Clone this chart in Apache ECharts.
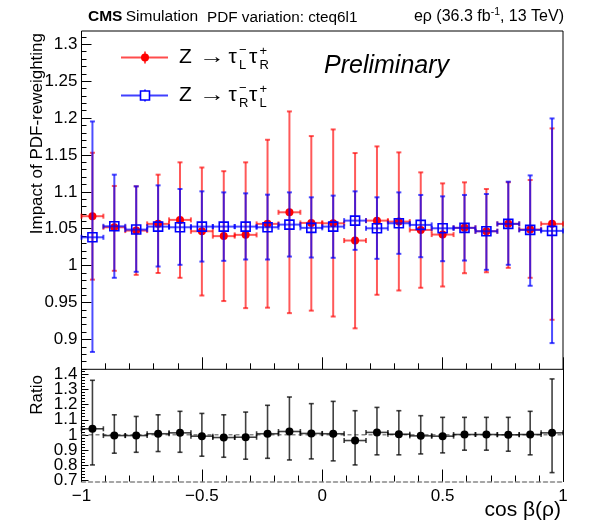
<!DOCTYPE html>
<html><head><meta charset="utf-8">
<script src="https://cdn.jsdelivr.net/npm/echarts@6/dist/echarts.min.js"></script>
<style>html,body{margin:0;padding:0;background:#fff}#c{width:598px;height:522px}</style>
</head><body><div id="c"></div>
<script>
// ---------- data ----------
const binWidth = 2 / 22;
const binCenters = [-0.95455,-0.86364,-0.77273,-0.68182,-0.59091,-0.5,-0.40909,-0.31818,-0.22727,-0.13636,-0.04545,
                    0.04545,0.13636,0.22727,0.31818,0.40909,0.5,0.59091,0.68182,0.77273,0.86364,0.95455];
// Z -> tau_L^- tau_R^+ (red)
const redVal = [1.067,1.052,1.0475,1.0566,1.062,1.0466,1.040,1.0417,1.0566,1.0723,1.0579,
                1.0574,1.034,1.061,1.0597,1.0484,1.0421,1.0512,1.0466,1.0566,1.0489,1.0566];
const redLo  = [0.981,0.993,0.9875,0.990,0.9835,0.9595,0.952,0.9424,0.943,0.9356,0.939,
                0.931,0.915,0.9605,0.9663,0.970,0.9717,0.9897,0.991,0.997,0.9835,0.9266];
const redHi  = [1.153,1.108,1.1075,1.1233,1.140,1.133,1.128,1.140,1.1706,1.209,1.1756,
                1.1846,1.1526,1.1616,1.1535,1.1264,1.1115,1.1129,1.1039,1.113,1.1161,1.186];
// Z -> tau_R^- tau_L^+ (blue)
const blueVal = [1.0384,1.0533,1.0489,1.0529,1.052,1.0529,1.0529,1.0529,1.052,1.0556,1.0512,
                 1.0529,1.061,1.0506,1.0574,1.0552,1.0506,1.0512,1.0466,1.0566,1.0484,1.0471];
const blueLo  = [0.883,0.9835,0.9916,0.9988,1.0011,1.0055,1.0065,1.0083,1.0083,1.0123,1.011,
                 1.0106,1.0214,1.0092,1.016,1.0114,1.006,1.0069,0.9943,1.0011,0.9727,0.895];
const blueHi  = [1.1954,1.1233,1.1075,1.1088,1.1039,1.1007,1.0993,1.098,1.0962,1.0993,1.0926,
                 1.0949,1.1007,1.0926,1.0993,1.0958,1.0939,1.0958,1.0971,1.1138,1.1223,1.1995];
// ratio
const ratioVal = [1.04,0.995,0.995,1.007,1.013,0.991,0.982,0.984,1.007,1.022,1.009,
                  1.007,0.962,1.016,1.004,0.993,0.991,1.002,1.002,1.0,1.002,1.013];
const ratioLo  = [0.80,0.878,0.884,0.889,0.884,0.858,0.851,0.838,0.844,0.833,0.84,
                  0.827,0.80,0.867,0.867,0.873,0.88,0.898,0.898,0.891,0.867,0.749];
const ratioHi  = [1.362,1.133,1.122,1.133,1.156,1.142,1.133,1.151,1.196,1.251,1.207,
                  1.222,1.16,1.182,1.16,1.127,1.116,1.116,1.116,1.116,1.156,1.371];
const refLine = [[-1, 1], [1, 1]];

// ticks
const xTickValues = [-1, -0.5, 0, 0.5, 1];
const xTickLabels = ['\u22121', '\u22120.5', '0', '0.5', '1'];
const topTickValues = [0.9, 0.95, 1, 1.05, 1.1, 1.15, 1.2, 1.25, 1.3];
const topTickLabels = ['0.9', '0.95', '1', '1.05', '1.1', '1.15', '1.2', '1.25', '1.3'];
const lowTickValues = [0.7, 0.8, 0.9, 1, 1.1, 1.2, 1.3, 1.4];
const lowTickLabels = ['0.7', '0.8', '0.9', '1', '1.1', '1.2', '1.3', '1.4'];
const topMinor = []; for (let k = 86; k <= 131; k++) topMinor.push(k / 100);
const lowMinor = []; for (let k = 35; k <= 71; k++) lowMinor.push(k / 50);
// lower labels split over two axes so none is hidden
const lowLabelsA = lowTickValues.filter((v, i) => i % 2 === 0);
const lowLabelsB = lowTickValues.filter((v, i) => i % 2 === 1);

const FONT = 'Liberation Sans, Arial, Helvetica, sans-serif';

function rows(val, lo, hi) {
  return binCenters.map((x, i) => [x, val[i], lo[i], hi[i]]);
}
function labelOf(values, labels) {
  return function (v) {
    for (let i = 0; i < values.length; i++) if (Math.abs(values[i] - v) < 1e-6) return labels[i];
    return '';
  };
}

function errRender(barColor, barWidth, marker) {
  return function (params, api) {
    const x = api.value(0), y = api.value(1), lo = api.value(2), hi = api.value(3);
    const c = api.coord([x, y]);
    const pl = api.coord([x - binWidth / 2, y]);
    const pr = api.coord([x + binWidth / 2, y]);
    const plo = api.coord([x, lo]);
    const phi = api.coord([x, hi]);
    const cap = 2.5;
    const st = { stroke: barColor, lineWidth: barWidth };
    const L = (x1, y1, x2, y2) => ({ type: 'line', shape: { x1, y1, x2, y2 }, style: st });
    const ch = [
      L(pl[0], c[1], pr[0], c[1]),
      L(pl[0], c[1] - cap, pl[0], c[1] + cap),
      L(pr[0], c[1] - cap, pr[0], c[1] + cap),
      L(c[0], plo[1], c[0], phi[1]),
      L(c[0] - cap, plo[1], c[0] + cap, plo[1]),
      L(c[0] - cap, phi[1], c[0] + cap, phi[1])
    ];
    if (marker === 'circleRed') ch.push({ type: 'circle', shape: { cx: c[0], cy: c[1], r: 4 }, style: { fill: '#ff0000' } });
    if (marker === 'circleBlack') ch.push({ type: 'circle', shape: { cx: c[0], cy: c[1], r: 4 }, style: { fill: '#000' } });
    if (marker === 'squareBlue') ch.push({ type: 'rect', shape: { x: c[0] - 4.5, y: c[1] - 4.5, width: 9, height: 9 }, style: { fill: 'none', stroke: '#0000ff', lineWidth: 1.6 } });
    return { type: 'group', children: ch };
  };
}

const chart = echarts.init(document.getElementById('c'), null, { renderer: 'canvas' });

function txt(x, y, text, size, opts, extra) {
  opts = opts || {};
  return Object.assign({
    type: 'text', x: x, y: y, z: 100,
    style: Object.assign({ text: text, fontSize: size, fontFamily: FONT, fill: '#000', align: 'left', verticalAlign: 'middle' }, opts)
  }, extra || {});
}

function legendRow(y, color, marker, s1sup, s1sub, s2sup, s2sub) {
  const items = [
    { type: 'line', shape: { x1: 121, y1: y, x2: 168, y2: y }, style: { stroke: color, lineWidth: 2 }, z: 100 },
    { type: 'line', shape: { x1: 145, y1: y - 6, x2: 145, y2: y + 6 }, style: { stroke: color, lineWidth: 2 }, z: 100 }
  ];
  if (marker === 'circle') items.push({ type: 'circle', shape: { cx: 145, cy: y, r: 4 }, style: { fill: '#ff0000' }, z: 101 });
  else items.push({ type: 'rect', shape: { x: 140.5, y: y - 4.5, width: 9, height: 9 }, style: { fill: '#fff', stroke: '#0000ff', lineWidth: 1.6 }, z: 101 });
  items.push(txt(179, y, 'Z', 21));
  items.push(txt(199, y, '\u2192', 20, {}, { scaleX: 1.3 }));
  items.push(txt(228.5, y, '\u03c4', 21));
  items.push(txt(239, y - 7, s1sup, 13));
  items.push(txt(239, y + 7.5, s1sub, 13));
  items.push(txt(249, y, '\u03c4', 21));
  items.push(txt(259.5, y - 6.5, s2sup, 13));
  items.push(txt(259.5, y + 7.5, s2sub, 13));
  return items;
}

const graphics = [].concat(
  [
    { type: 'text', x: 88, y: 17, z: 100, style: { text: '{b|CMS} {n|Simulation}', fontFamily: FONT, fill: '#000', align: 'left', verticalAlign: 'middle',
      rich: { b: { fontSize: 15.5, fontWeight: 'bold', fontFamily: FONT }, n: { fontSize: 15.5, fontFamily: FONT } } } },
    txt(207, 18, 'PDF variation: cteq6l1', 15.3),
    { type: 'text', x: 564, y: 17, z: 100, style: { text: '{n|e\u03c1 (36.3 fb}{s|-1}{n|, 13 TeV)}', fontFamily: FONT, fill: '#000', align: 'right', verticalAlign: 'middle',
      rich: { n: { fontSize: 16, fontFamily: FONT, lineHeight: 20 }, s: { fontSize: 10.5, fontFamily: FONT, verticalAlign: 'top', lineHeight: 12 } } } },
    txt(324, 66, 'Preliminary', 25, { fontStyle: 'italic' }),
    { type: 'text', x: 37, y: 33, rotation: Math.PI / 2, z: 100, style: { text: 'Impact of PDF-reweighting', fontSize: 17, fontFamily: FONT, fill: '#000', align: 'right', verticalAlign: 'middle' } },
    { type: 'text', x: 37, y: 375, rotation: Math.PI / 2, z: 100, style: { text: 'Ratio', fontSize: 17, fontFamily: FONT, fill: '#000', align: 'right', verticalAlign: 'middle' } },
    txt(561, 510, 'cos \u03b2(\u03c1)', 21, { align: 'right' })
  ],
  legendRow(57.5, 'rgba(255,0,0,0.7)', 'circle', '\u2212', 'L', '+', 'R'),
  legendRow(95.5, 'rgba(0,0,255,0.75)', 'square', '\u2212', 'R', '+', 'L')
);

const axisLabelStyle = { color: '#000', fontSize: 17, fontFamily: FONT };

const option = {
  animation: false,
  backgroundColor: '#fff',
  grid: [
    { left: 81.5, top: 31, width: 481.5, height: 338.3, show: true, borderColor: '#000', borderWidth: 1, backgroundColor: 'transparent' },
    { left: 81.5, top: 369.3, width: 481.5, height: 112.2, show: false }
  ],
  xAxis: [
    { gridIndex: 0, type: 'value', min: -1, max: 1, interval: 0.5, position: 'bottom',
      axisLine: { show: false, onZero: false }, axisLabel: { show: false }, splitLine: { show: false },
      axisTick: { inside: true, length: 12, lineStyle: { color: '#000', width: 1 } },
      minorTick: { show: true, splitNumber: 5, length: 6, lineStyle: { color: '#000', width: 1 } } },
    { gridIndex: 1, type: 'value', min: -1, max: 1, interval: 0.5, position: 'bottom',
      axisLine: { show: true, onZero: false, lineStyle: { color: '#888', width: 1.5, type: [4, 3] } },
      axisLabel: Object.assign({ show: true, margin: 6, showMinLabel: true, showMaxLabel: true, hideOverlap: false, formatter: labelOf(xTickValues, xTickLabels) }, axisLabelStyle),
      splitLine: { show: false },
      axisTick: { inside: true, length: 12, lineStyle: { color: '#000', width: 1 } },
      minorTick: { show: true, splitNumber: 5, length: 6, lineStyle: { color: '#000', width: 1 } } }
  ],
  yAxis: [
    { gridIndex: 0, type: 'value', min: 0.8595, max: 1.318, position: 'left',
      axisLine: { show: false, onZero: false }, splitLine: { show: false },
      axisTick: { inside: true, length: 10, customValues: topTickValues, lineStyle: { color: '#000' } },
      axisLabel: Object.assign({ margin: 4, showMinLabel: true, showMaxLabel: true, hideOverlap: false, customValues: topTickValues, formatter: labelOf(topTickValues, topTickLabels) }, axisLabelStyle) },
    { gridIndex: 0, type: 'value', min: 0.8595, max: 1.318, position: 'left',
      axisLine: { show: false, onZero: false }, splitLine: { show: false }, axisLabel: { show: false },
      axisTick: { inside: true, length: 5, customValues: topMinor, lineStyle: { color: '#000' } } },
    { gridIndex: 1, type: 'value', min: 0.69, max: 1.435, position: 'left',
      axisLine: { show: true, onZero: false, lineStyle: { color: '#000', width: 1 } }, splitLine: { show: false },
      axisTick: { inside: true, length: 7, customValues: lowTickValues, lineStyle: { color: '#000' } },
      axisLabel: Object.assign({ margin: 4, showMinLabel: true, showMaxLabel: true, hideOverlap: false, customValues: lowLabelsA, formatter: labelOf(lowTickValues, lowTickLabels) }, axisLabelStyle) },
    { gridIndex: 1, type: 'value', min: 0.69, max: 1.435, position: 'left',
      axisLine: { show: false, onZero: false }, splitLine: { show: false },
      axisLabel: Object.assign({ margin: 4, showMinLabel: true, showMaxLabel: true, hideOverlap: false, customValues: lowLabelsB, formatter: labelOf(lowTickValues, lowTickLabels) }, axisLabelStyle),
      axisTick: { inside: true, length: 3.5, customValues: lowMinor, lineStyle: { color: '#000' } } },
    { gridIndex: 1, type: 'value', min: 0.69, max: 1.435, position: 'right',
      axisLine: { show: true, onZero: false, lineStyle: { color: '#000', width: 1 } }, splitLine: { show: false },
      axisLabel: { show: false }, axisTick: { show: false } }
  ],
  series: [
    { type: 'line', xAxisIndex: 1, yAxisIndex: 2, data: refLine, symbol: 'none', silent: true,
      lineStyle: { color: '#888', width: 1.5, type: [4, 3] }, z: 1 },
    { type: 'custom', name: 'red', xAxisIndex: 0, yAxisIndex: 0, data: rows(redVal, redLo, redHi),
      renderItem: errRender('rgba(255,0,0,0.65)', 2, 'circleRed'), z: 3 },
    { type: 'custom', name: 'blue', xAxisIndex: 0, yAxisIndex: 0, data: rows(blueVal, blueLo, blueHi),
      renderItem: errRender('rgba(0,0,255,0.7)', 2, 'squareBlue'), z: 4 },
    { type: 'custom', name: 'ratio', xAxisIndex: 1, yAxisIndex: 2, data: rows(ratioVal, ratioLo, ratioHi),
      renderItem: errRender('rgba(0,0,0,0.75)', 1.6, 'circleBlack'), z: 3 }
  ],
  graphic: graphics
};
chart.setOption(option);
</script>
</body></html>
